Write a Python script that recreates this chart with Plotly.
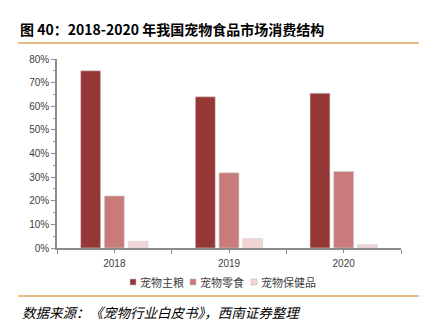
import plotly.graph_objects as go

years = ["2018", "2019", "2020"]
series_names = ["宠物主粮", "宠物零食", "宠物保健品"]
staple = [0.75, 0.64, 0.655]
snack = [0.22, 0.318, 0.324]
health = [0.028, 0.040, 0.014]
colors = ["#953735", "#C87B7A", "#F2D5D4"]
title_text = "图 40：2018-2020 年我国宠物食品市场消费结构"
source_text = "数据来源：《宠物行业白皮书》，西南证券整理"

W, H = 425, 329
L, R, T, B = 57, 24, 59, 81
pw, ph = W - L - R, H - T - B

def px(x):
    return (x - L) / pw

def py(y):
    return (H - B - y) / ph

fig = go.Figure()
for name, vals, c in zip(series_names, [staple, snack, health], colors):
    fig.add_trace(go.Bar(x=years, y=vals, name=name, showlegend=False,
                         marker=dict(color=c, line=dict(color="#D0D0D0", width=0.6))))

# invisible trace for center ticks
fig.add_trace(go.Scatter(x=years, y=[0, 0, 0], xaxis="x2", mode="markers", marker=dict(opacity=0),
                         showlegend=False, hoverinfo="skip"))

axis_color = "#8C8C8C"
tick_font = dict(family="Liberation Sans, Arial", size=10, color="#404040")

fig.update_layout(
    width=W, height=H,
    margin=dict(l=L, r=R, t=T, b=B),
    paper_bgcolor="white", plot_bgcolor="white",
    barmode="group", bargap=0.38, bargroupgap=0.16,
    showlegend=False,
    xaxis=dict(type="category", showline=True, linecolor=axis_color, linewidth=1.5,
               ticks="outside", tickson="boundaries", ticklen=4, tickcolor=axis_color,
               tickfont=tick_font, showgrid=False, zeroline=False, ticklabelstandoff=5),
    xaxis2=dict(type="category", overlaying="x", matches="x", showline=False, ticks="outside",
                ticklen=4, tickcolor=axis_color, showticklabels=False, showgrid=False,
                anchor="y", side="bottom"),
    yaxis=dict(range=[0, 0.8], tickformat=".0%", dtick=0.1, showline=True, linecolor=axis_color,
               linewidth=1.5, ticks="outside", ticklen=4, tickcolor=axis_color, tickfont=tick_font,
               showgrid=False, zeroline=False,
               minor=dict(dtick=0.05, ticks="outside", ticklen=2, tickcolor=axis_color)),
    font=dict(family="Noto Sans CJK SC"),
)

# custom compact legend
legend_x = [130, 190, 251]
legend_y = 282
for xx, name, c in zip(legend_x, series_names, colors):
    fig.add_shape(type="rect", xref="paper", yref="paper",
                  x0=px(xx), x1=px(xx + 6), y0=py(legend_y - 3), y1=py(legend_y + 3),
                  fillcolor=c, line=dict(color="#BFBFBF", width=0.6))
    fig.add_annotation(text=name, xref="paper", yref="paper", x=px(xx + 7.5), y=py(legend_y),
                       xanchor="left", yanchor="middle", showarrow=False,
                       font=dict(family="Noto Sans CJK SC", size=11, color="#404040"))

fig.add_annotation(text="<b>" + title_text + "</b>", xref="paper", yref="paper",
                   x=px(18), y=py(29), xanchor="left", yanchor="middle", showarrow=False,
                   font=dict(family="Noto Sans CJK SC", size=14, color="#000000"))
fig.add_annotation(text="<i>" + source_text + "</i>", xref="paper", yref="paper",
                   x=px(20), y=py(312), xanchor="left", yanchor="middle", showarrow=False,
                   font=dict(family="Noto Sans CJK SC", size=13.5, color="#000000"))

for yy in [43, 296]:
    fig.add_shape(type="line", xref="paper", yref="paper", x0=px(18), x1=px(419), y0=py(yy), y1=py(yy),
                  line=dict(color="#E0A65A", width=1.5))

fig.write_html("out.html")
